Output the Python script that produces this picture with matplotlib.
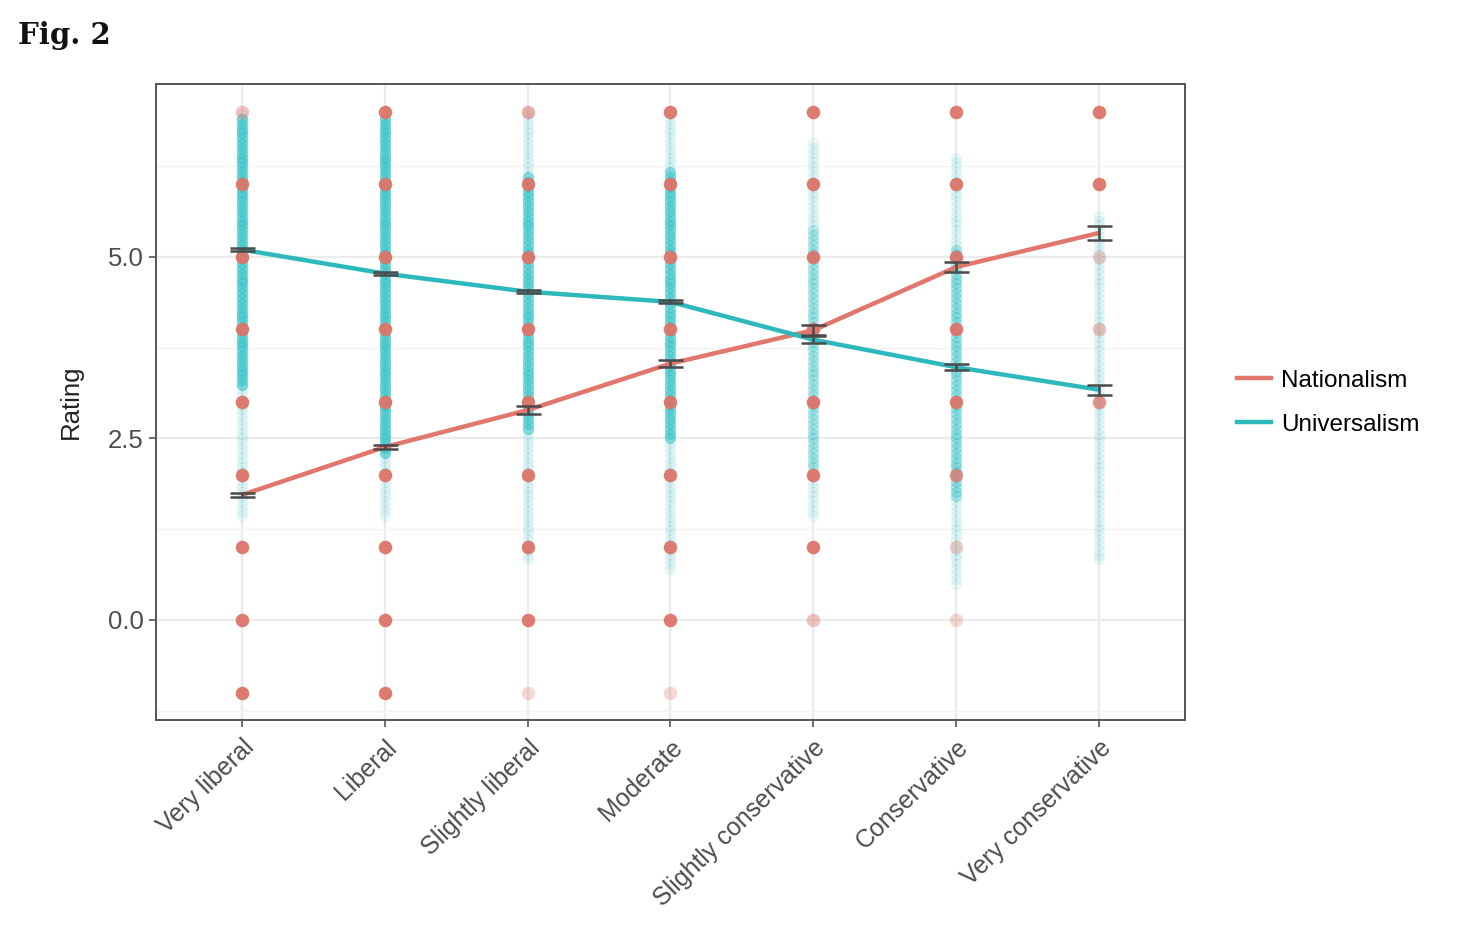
import numpy as np
import matplotlib
matplotlib.use("Agg")
from matplotlib import pyplot as plt
from matplotlib.lines import Line2D

plt.rcParams["font.family"] = ["Liberation Sans", "DejaVu Sans"]

# categories on the x axis
groups = ["Very liberal", "Liberal", "Slightly liberal", "Moderate",
          "Slightly conservative", "Conservative", "Very conservative"]

# group means and standard errors
nat_mean = [1.72, 2.38, 2.89, 3.53, 3.99, 4.86, 5.33]
nat_err = [0.03, 0.03, 0.05, 0.05, 0.07, 0.07, 0.10]
uni_mean = [5.10, 4.77, 4.52, 4.38, 3.86, 3.48, 3.17]
uni_err = [0.02, 0.02, 0.02, 0.02, 0.05, 0.04, 0.07]

# nationalism raw ratings sit on integer levels, opacity ~ how many people
nat_levels = [7, 6, 5, 4, 3, 2, 1, 0, -1]
nat_alpha = [
    [0.45, 1, 1, 1, 1, 1, 1, 1, 1],     # very liberal
    [1, 1, 1, 1, 1, 1, 1, 1, 1],        # liberal
    [0.6, 1, 1, 1, 1, 1, 1, 1, 0.3],    # slightly liberal
    [1, 1, 1, 1, 1, 1, 1, 1, 0.3],      # moderate
    [1, 1, 1, 1, 1, 1, 1, 0.45, 0],     # slightly conservative
    [1, 1, 1, 1, 1, 0.8, 0.35, 0.3, 0], # conservative
    [1, 1, 0.35, 0.45, 0.8, 0, 0, 0, 0],# very conservative
]

# universalism ratings: dense band and faint tails (low, high) per group
uni_dense = [(3.2, 6.9), (2.3, 6.9), (2.6, 6.1), (2.5, 6.2), (2.1, 5.4), (1.7, 5.1), (2.4, 4.6)]
uni_faint = [(1.4, 7.0), (1.4, 7.0), (0.8, 7.0), (0.7, 7.0), (1.4, 6.6), (0.5, 6.4), (0.8, 5.6)]
uni_dense_alpha = [0.65, 0.65, 0.58, 0.58, 0.3, 0.38, 0.1]
uni_levels = np.round(np.arange(0.5, 7.0001, 1 / 15), 4)

red = "#E0766C"
cyan = "#2DB8BD"
red_pt = "#DD7469"
cyan_pt = "#3CC6CB"

fig = plt.figure(figsize=(14.66, 9.34), dpi=100)
ax = fig.add_axes([0.1064, 0.229, 0.7019, 0.681])

x = np.arange(len(groups))

# universalism dots
for i in range(len(groups)):
    lo_d, hi_d = uni_dense[i]
    lo_f, hi_f = uni_faint[i]
    for v in uni_levels:
        if lo_d <= v <= hi_d:
            a = uni_dense_alpha[i]
        elif lo_f <= v <= hi_f:
            a = 0.1
        else:
            continue
        ax.scatter(x[i], v, s=55, facecolor=cyan_pt, edgecolor=cyan_pt,
                   linewidth=0.6, alpha=a, zorder=3)

# nationalism dots
for i in range(len(groups)):
    for lev, a in zip(nat_levels, nat_alpha[i]):
        if a > 0:
            ax.scatter(x[i], lev, s=95, color=red_pt, alpha=a * 0.95,
                       linewidth=0, zorder=4)

# mean lines
ax.plot(x, nat_mean, color=red, lw=3.2, zorder=5, solid_capstyle="butt")
ax.plot(x, uni_mean, color=cyan, lw=3.2, zorder=5, solid_capstyle="butt")
ax.errorbar(x, nat_mean, yerr=nat_err, fmt="none", ecolor="#4a4a4a",
            elinewidth=1.8, capsize=9, capthick=1.8, zorder=6)
ax.errorbar(x, uni_mean, yerr=uni_err, fmt="none", ecolor="#4a4a4a",
            elinewidth=1.8, capsize=9, capthick=1.8, zorder=6)

ax.set_xlim(-0.6, 6.6)
ax.set_ylim(-1.38, 7.38)
ax.set_xticks(x)
ax.set_xticklabels(groups, rotation=44, ha="right", rotation_mode="anchor",
                   fontsize=18, color="#4d4d4d")
ax.set_yticks([0.0, 2.5, 5.0])
ax.set_yticklabels(["0.0", "2.5", "5.0"], fontsize=18.5, color="#4d4d4d")
ax.set_yticks([-1.25, 1.25, 3.75, 6.25], minor=True)
ax.tick_params(axis="both", which="major", length=5, width=1.2, color="#555555")
ax.tick_params(axis="x", pad=6)
ax.tick_params(axis="y", pad=4)
ax.tick_params(axis="y", which="minor", length=0)
ax.grid(True, which="major", color="#ebebeb", lw=1.6, zorder=0)
ax.grid(True, which="minor", axis="y", color="#f2f2f2", lw=1.0, zorder=0)
ax.set_axisbelow(True)
for sp in ax.spines.values():
    sp.set_color("#555555")
    sp.set_linewidth(1.4)

ax.set_ylabel("Rating", fontsize=18.5, color="#222222", labelpad=18)

handles = [Line2D([0], [0], color=red, lw=3.2),
           Line2D([0], [0], color=cyan, lw=3.2)]
fig.legend(handles, ["Nationalism", "Universalism"], loc="center left",
           bbox_to_anchor=(0.829, 0.569), frameon=False, fontsize=17.5,
           handlelength=1.4, handletextpad=0.4, labelspacing=0.9)

fig.text(0.012, 0.962, "Fig. 2", fontsize=21, fontweight="bold",
         family="DejaVu Serif", va="center", ha="left", color="#111111")

plt.savefig("out.png", dpi=100)
